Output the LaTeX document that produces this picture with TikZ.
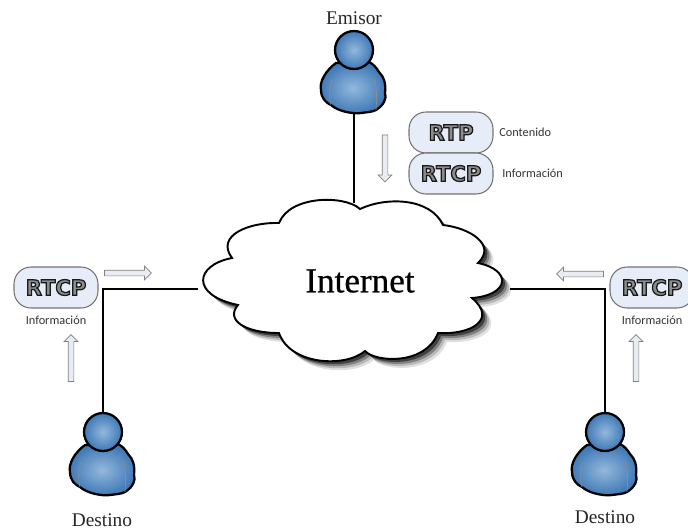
\documentclass[tikz,border=0pt]{standalone}
\usepackage{fontspec}
\setmainfont{Liberation Serif}
\newfontfamily\labelfont{Carlito}
\newfontfamily\protofont{DejaVu Sans Bold}
\newfontfamily\cloudfont[FakeBold=0.6]{Liberation Serif}
\usetikzlibrary{positioning, shapes.arrows}
\definecolor{pillblue}{HTML}{E6ECF8}
\definecolor{arrowgrey}{HTML}{E9EDF3}
\definecolor{bodyblue}{HTML}{3E78B6}
\definecolor{glowblue}{HTML}{93B8DC}
\newcommand{\outlined}[1]{\special{pdf:code 2 Tr 0.7 w 0.1 G}#1\special{pdf:code 0 Tr 0 G}}
\newcommand{\cloudpath}{
  (360,209) .. controls (385,197) and (430,197) .. (443,225)
  .. controls (470,228) and (497,245) .. (478,263)
  .. controls (512,270) and (510,295) .. (472,298)
  .. controls (498,320) and (470,335) .. (438,333)
  .. controls (425,366) and (375,362) .. (365,351)
  .. controls (345,368) and (290,365) .. (279,333)
  .. controls (245,333) and (225,320) .. (238,305)
  .. controls (190,295) and (195,265) .. (232,258)
  .. controls (215,235) and (250,222) .. (279,223)
  .. controls (290,195) and (345,195) .. (360,209) -- cycle
}
\tikzset{%
  x=0.02cm, y=-0.02cm,
  link/.style={draw, line width=1.6pt},
  pill/.style={draw=black!55, fill=pillblue, rounded corners=0.34cm, semithick,
    minimum width=1.68cm, minimum height=0.82cm, inner sep=0pt, outer sep=0pt,
    text=black!45, font=\protofont\fontsize{12}{12}\selectfont},
  caption/.style={inner sep=0pt, font=\labelfont\fontsize{7}{8}\selectfont, text=black!80},
  who/.style={inner sep=0pt, font=\fontsize{11}{12}\selectfont, text=black!85},
  flow/.style={single arrow, draw=black!50, fill=arrowgrey, thin, inner sep=0.05cm,
    minimum width=0.26cm, minimum height=0.94cm,
    single arrow head extend=0.08cm, single arrow head indent=0pt},
  person/.pic={
    \draw[line width=1.3pt, inner color=glowblue, outer color=bodyblue]
      (-18,13) .. controls (-28,20) and (-35,32) .. (-33,40)
      .. controls (-33,48) and (-28,53) .. (-23,55)
      .. controls (-15,62) and (0,64) .. (7,63)
      .. controls (14,62) and (18,62) .. (22,60)
      .. controls (30,55) and (33,48) .. (31,43)
      .. controls (32,33) and (30,27) .. (25,22)
      .. controls (22,17) and (19,14) .. (15,12) -- cycle;
    \draw[black!45, thin] (-22,30) .. controls (-25,38) and (-25,48) .. (-23,55);
    \draw[black!45, thin] (20,28) .. controls (23,38) and (23,48) .. (22,60);
    \node[circle, draw, line width=1.3pt, inner color=glowblue, outer color=bodyblue,
      minimum size=0.76cm, inner sep=0pt] (-head) at (0,0) {};
    \coordinate (-crown) at (0,-19);
    \coordinate (-foot) at (0,62);
  }
}
\begin{document}
\begin{tikzpicture}
    \useasboundingbox (0,0) rectangle (688,529);

    % cloud with a soft shadow
    \foreach \s/\o in {9/0.12, 7/0.18, 5/0.3, 3/0.5} {
      \fill[black, opacity=\o, shift={(\s*0.02cm,-\s*0.02cm)}] \cloudpath;
    }
    \draw[fill=white, line width=1.1pt] \cloudpath;
    \node[inner sep=0pt, font=\cloudfont\fontsize{20}{22}\selectfont] (internet) at (360,281) {Internet};
    \coordinate (cloudtop) at (354,203);
    \coordinate (cloudleft) at (198,289);
    \coordinate (cloudright) at (510,289);

    \pic (emisor) at (354,50) {person};
    \pic (destinol) at (103,432) {person};
    \pic (destinor) at (605,432) {person};

    \node[who] (emisorname) at (354,18) {Emisor};
    \node[who] (destinolname) at (102,520) {Destino};
    \node[who] (destinorname) at (605,517) {Destino};

    \draw[link] (emisor-foot) -- (cloudtop);
    \draw[link] (destinol-crown) |- (cloudleft);
    \draw[link] (destinor-crown) |- (cloudright);

    \node[pill] (rtp) at (451,132.5) {\outlined{RTP}};
    \node[pill, below=0pt of rtp] (rtcp) {\outlined{RTCP}};
    \node[caption, right=0.12cm of rtp] (contenido) {Contenido};
    \node[caption, right=0.18cm of rtcp] (informacion) {Información};

    \node[pill] (rtcpl) at (56,287.5) {\outlined{RTCP}};
    \node[caption, below=0.16cm of rtcpl] (informacionl) {Información};
    \node[pill] (rtcpr) at (652,287.5) {\outlined{RTCP}};
    \node[caption, below=0.16cm of rtcpr] (informacionr) {Información};

    \node[flow, rotate=-90] (flowdown) at (385,157) {};
    \node[flow] (flowl) at (126.5,273) {};
    \node[flow, rotate=90] (flowlup) at (71,359.5) {};
    \node[flow, rotate=180] (flowr) at (581.5,274) {};
    \node[flow, rotate=90] (flowrup) at (636,359.5) {};

\end{tikzpicture}
\end{document}
